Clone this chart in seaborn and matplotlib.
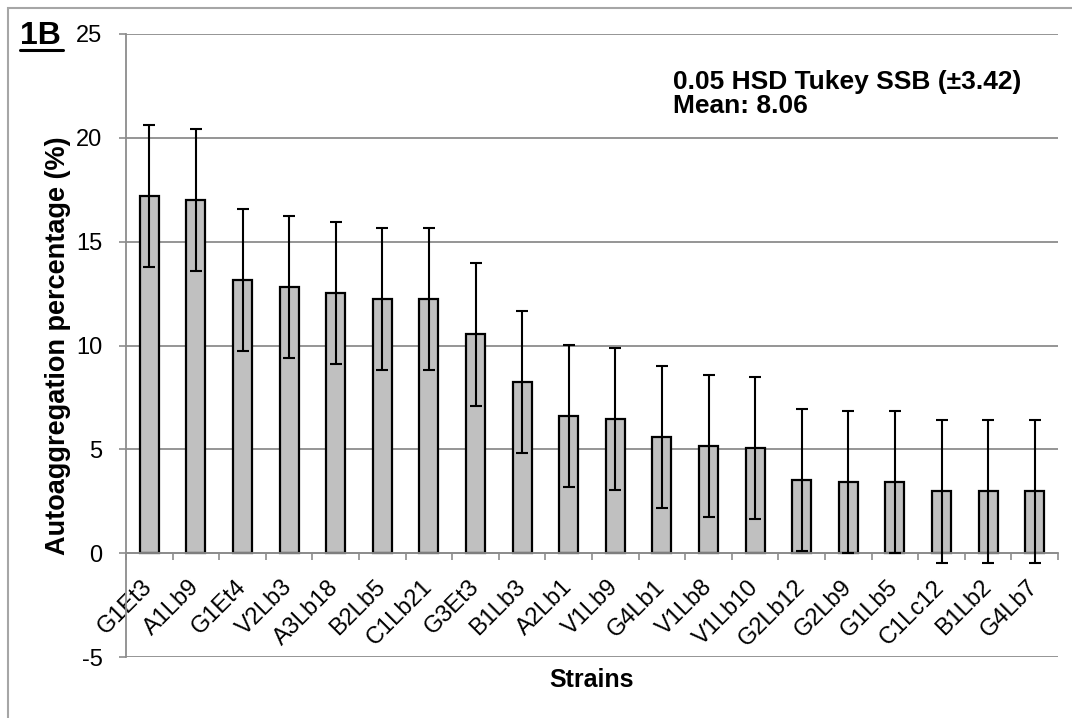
import numpy as np
import pandas as pd
import matplotlib
matplotlib.use("Agg")
import matplotlib.pyplot as plt
from matplotlib.patches import Rectangle
from matplotlib.lines import Line2D
from matplotlib.ticker import FixedLocator
import seaborn as sns

# данные
strains = ["G1Et3", "A1Lb9", "G1Et4", "V2Lb3", "A3Lb18", "B2Lb5", "C1Lb21", "G3Et3",
           "B1Lb3", "A2Lb1", "V1Lb9", "G4Lb1", "V1Lb8", "V1Lb10", "G2Lb12", "G2Lb9",
           "G1Lb5", "C1Lc12", "B1Lb2", "G4Lb7"]
autoaggregation = [17.18, 17.02, 13.17, 12.80, 12.55, 12.26, 12.26, 10.53,
                   8.25, 6.62, 6.44, 5.61, 5.14, 5.06, 3.52, 3.41,
                   3.43, 2.97, 2.97, 2.97]
hsd = 3.42
y_ticks = [-5, 0, 5, 10, 15, 20, 25]

df = pd.DataFrame({"strain": strains, "value": autoaggregation})

sns.set_style("white")
plt.rcParams["font.family"] = ["Liberation Sans", "DejaVu Sans"]
plt.rcParams["axes.unicode_minus"] = False
for k in ["text.color", "axes.labelcolor", "xtick.labelcolor", "ytick.labelcolor"]:
    plt.rcParams[k] = "black"

W, H = 1072, 718
fig = plt.figure(figsize=(W / 100, H / 100), dpi=100)
ax = fig.add_axes([126 / W, 1 - 657 / H, (1058 - 126) / W, (657 - 34) / H])

grid_c = "#8c8c8c"
ax.set_axisbelow(True)
ax.yaxis.grid(True, color=grid_c, lw=1.3)

sns.barplot(data=df, x="strain", y="value", color="#c0c0c0", saturation=1,
            edgecolor="black", linewidth=1.6, width=0.41, errorbar=None, ax=ax)
ax.errorbar(np.arange(len(strains)), df["value"], yerr=hsd, fmt="none",
            ecolor="black", elinewidth=1.5, capsize=4, capthick=1.5, zorder=5)

ax.set_ylim(-5, 25)
ax.set_xlim(-0.5, len(strains) - 0.5)
ax.set_yticks(y_ticks)
ax.tick_params(axis="y", labelsize=17, length=5, width=1.2, color=grid_c, pad=12, left=True)

# оси как в Excel: ось X проходит через ноль
for s in ["top", "right"]:
    ax.spines[s].set_visible(False)
ax.spines["bottom"].set_position(("data", 0))
ax.spines["bottom"].set_color(grid_c)
ax.spines["bottom"].set_linewidth(1.3)
ax.spines["left"].set_color(grid_c)
ax.spines["left"].set_linewidth(1.3)

ax.xaxis.set_minor_locator(FixedLocator(np.arange(-0.5, len(strains), 1)))
ax.tick_params(axis="x", which="minor", length=5, width=1.2, color=grid_c, bottom=True)
ax.tick_params(axis="x", which="major", length=5, width=0, labelsize=17, pad=17)
plt.setp(ax.get_xticklabels(), rotation=45, ha="right", va="center", rotation_mode="anchor")

ax.set_xlabel("Strains", fontsize=18, fontweight="bold")
ax.xaxis.set_label_coords(0.5, -0.018)
ax.xaxis.label.set_va("top")
ax.set_ylabel("Autoaggregation percentage (%)", fontsize=19.5, fontweight="bold")
ax.yaxis.set_label_coords(-0.059, 0.5)

fig.text(673 / W, 1 - 89 / H, "0.05 HSD Tukey SSB (\u00b13.42)",
         fontsize=19, fontweight="bold", va="baseline")
fig.text(673 / W, 1 - 113 / H, "Mean: 8.06",
         fontsize=19, fontweight="bold", va="baseline")

# подпись панели и рамка
fig.text(20 / W, 1 - 44 / H, "1B", fontsize=23, fontweight="bold", va="baseline")
fig.add_artist(Line2D([20 / W, 63 / W], [1 - 50 / H, 1 - 50 / H], color="black", lw=2.2))
fig.add_artist(Rectangle((8 / W, -0.2), 1.2, 1.2 - 8 / H, transform=fig.transFigure,
                         fill=False, edgecolor="#a6a6a6", lw=1.5))

fig.savefig("out.png", dpi=100)
